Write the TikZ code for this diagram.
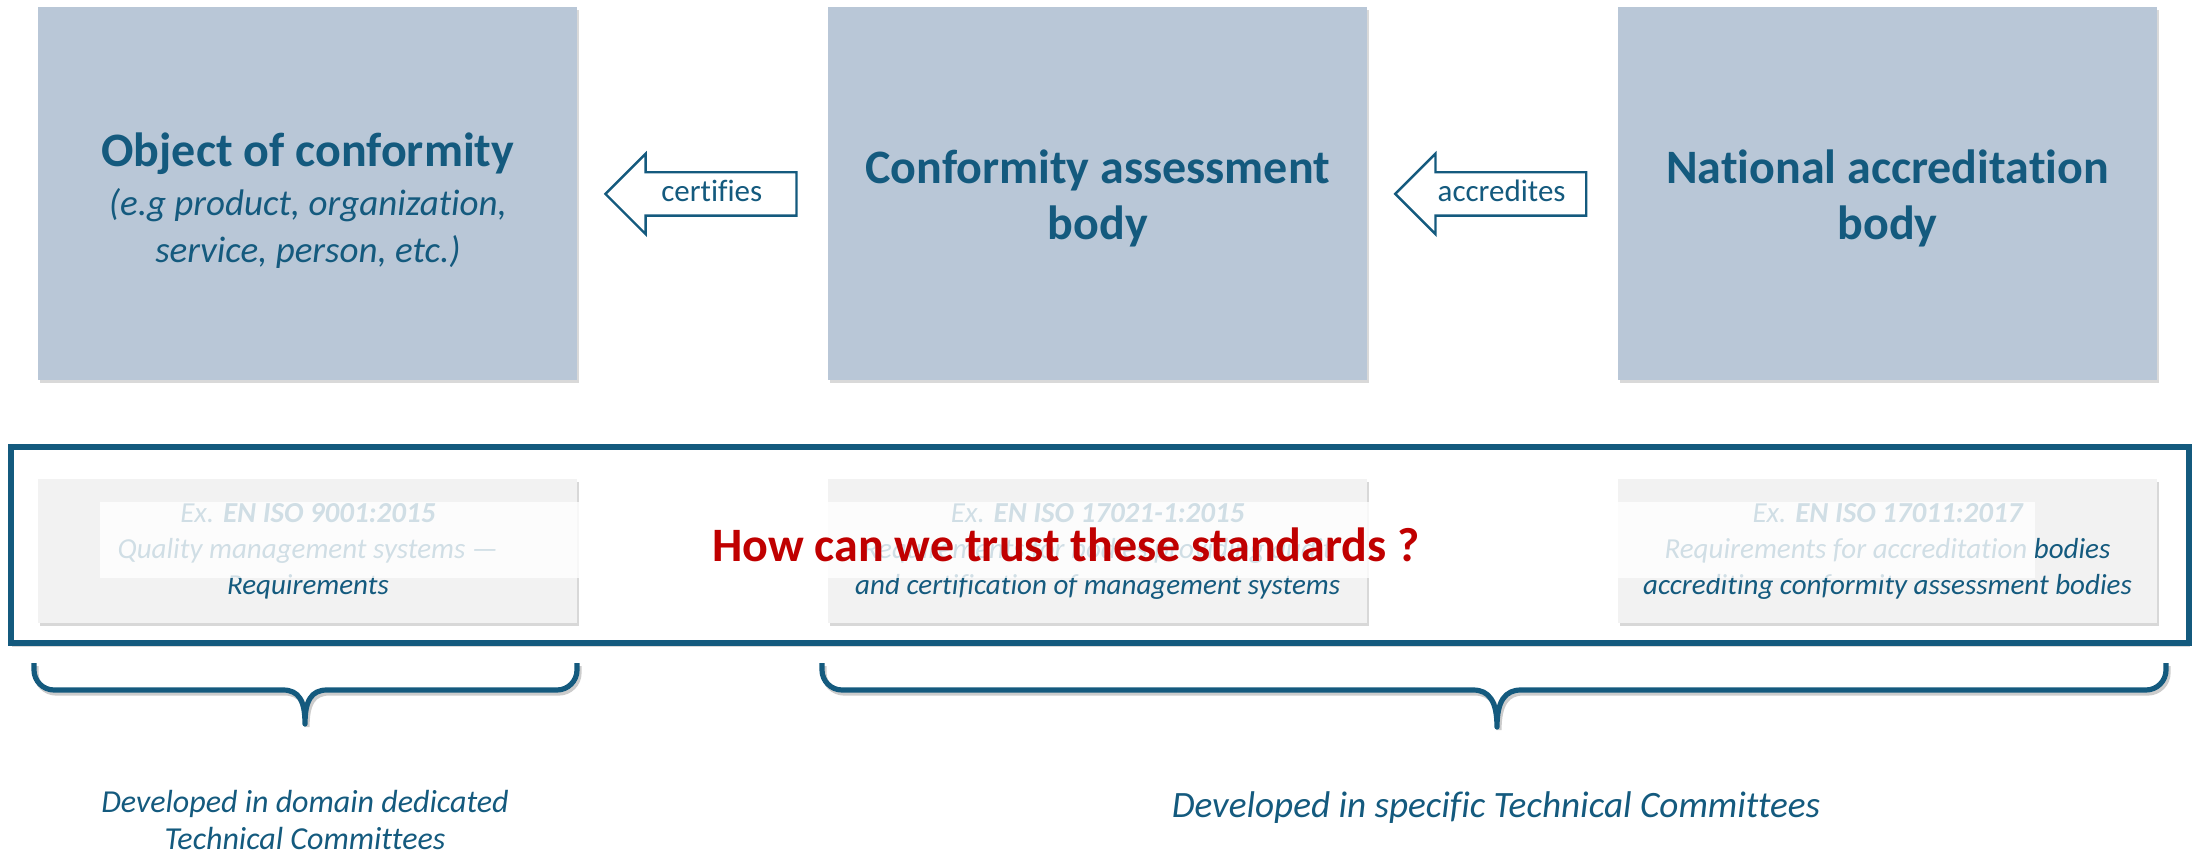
\documentclass[tikz,border=0pt]{standalone}
\usepackage{fontspec}
\setmainfont[Ligatures=NoCommon]{Carlito}
\usetikzlibrary{positioning}
\usetikzlibrary{calc}
\usetikzlibrary{shapes.arrows}
\usetikzlibrary{shadows}

\definecolor{deepblue}{HTML}{145A7E}
\definecolor{boxblue}{HTML}{B9C7D7}
\definecolor{stdgray}{HTML}{F2F2F2}
\definecolor{trustred}{HTML}{C00000}

\begin{document}
\begin{tikzpicture}[x=0.5pt, y=-0.5pt]
        \tikzstyle{body_style} = [rectangle, fill=boxblue, minimum width=269.5pt, minimum height=186.5pt, drop shadow={shadow xshift=1pt, shadow yshift=-1.5pt, opacity=0.3}]
        \tikzstyle{title_style} = [text=deepblue, align=center, font=\fontsize{24pt}{28pt}\selectfont\bfseries]
        \tikzstyle{std_style} = [rectangle, fill=stdgray, text=deepblue, align=center, minimum width=269.5pt, minimum height=72pt, font=\fontsize{14.5pt}{18pt}\selectfont\itshape, drop shadow={shadow xshift=1pt, shadow yshift=-1.5pt, opacity=0.3}]
        \tikzstyle{arrow_style1} = [single arrow, shape border rotate=180, draw=deepblue, line width=1.2pt, fill=white, text=deepblue, single arrow head extend=9.25pt, single arrow tip angle=90, minimum height=95.5pt, inner ysep=2.25pt, text height=12pt, text depth=4pt, xshift=4.5pt, font=\fontsize{15.5pt}{18pt}\selectfont]
        \tikzstyle{brace_style} = [draw=deepblue, line width=2.6pt, line join=round, preaction={draw=black!20, line width=2.6pt, transform canvas={shift={(1pt,-1.5pt)}}}]
        \tikzstyle{note_style} = [text=deepblue, align=center, font=\fontsize{16pt}{18.5pt}\selectfont\itshape]

        \useasboundingbox (0,0) rectangle (2192,857);

        % the three parties
        \node[body_style, anchor=north west] (n1) at (38,7) {};
        \node[body_style] (n2) [right=125pt of n1] {};
        \node[body_style] (n3) [right=125pt of n2] {};

        \node[title_style, font=\fontsize{18.5pt}{23.5pt}\selectfont\itshape] (n1_text) at ([yshift=-3.5pt]n1.center) {{\upshape\bfseries\fontsize{24pt}{28pt}\selectfont Object of conformity}\\[1pt](e.g product, organization,\\service, person, etc.)};
        \node[title_style] (n2_text) at ([yshift=-2.1pt]n2.center) {Conformity assessment\\body};
        \node[title_style] (n3_text) at ([yshift=-2.1pt]n3.center) {National accreditation\\body};

        \node[arrow_style1] (a1) at ($(n1)!0.5!(n2)$) {certifies};
        \node[arrow_style1] (a2) at ($(n2)!0.5!(n3)$) {accredites};

        % standards frame
        \draw[draw=deepblue, line width=3pt, fill=white, drop shadow={shadow xshift=0.5pt, shadow yshift=-2pt, opacity=0.3}] (11,447) rectangle (2189,643);

        \node[std_style] (s1) [below=49pt of n1] {Ex. \textbf{EN ISO 9001:2015}\\Quality management systems ---\\Requirements};
        \node[std_style] (s2) [below=49pt of n2] {Ex. \textbf{EN ISO 17021-1:2015}\\Requirements for bodies providing audit\\and certification of management systems};
        \node[std_style] (s3) [below=49pt of n3] {Ex. \textbf{EN ISO 17011:2017}\\Requirements for accreditation bodies\\accrediting conformity assessment bodies};

        \fill[white, opacity=0.8] (100,502) rectangle (2035,578);

        \node[text=trustred, font=\fontsize{24pt}{28pt}\selectfont\bfseries] (q) at (1066,545) {How can we trust these standards ?};

        % braces
        \draw[brace_style] (34,663) -- (34,670) .. controls (34,681) and (43,690) .. (54,690) -- (283,690) .. controls (299,690) and (305,701) .. (305,724) .. controls (305,701) and (311,690) .. (327,690) -- (557,690) .. controls (568,690) and (577,681) .. (577,670) -- (577,663);
        \draw[brace_style] (822,663) -- (822,670) .. controls (822,681) and (831,690) .. (842,690) -- (1473,690) .. controls (1489,690) and (1497,701) .. (1497,727) .. controls (1497,701) and (1505,690) .. (1521,690) -- (2146,690) .. controls (2157,690) and (2166,681) .. (2166,670) -- (2166,663);

        \node[note_style] (t1) at (305,820) {Developed in domain dedicated\\Technical Committees};
        \node[note_style, font=\fontsize{18.6pt}{21pt}\selectfont\itshape] (t2) at (1496,808) {Developed in specific Technical Committees};

    \end{tikzpicture}
\end{document}
